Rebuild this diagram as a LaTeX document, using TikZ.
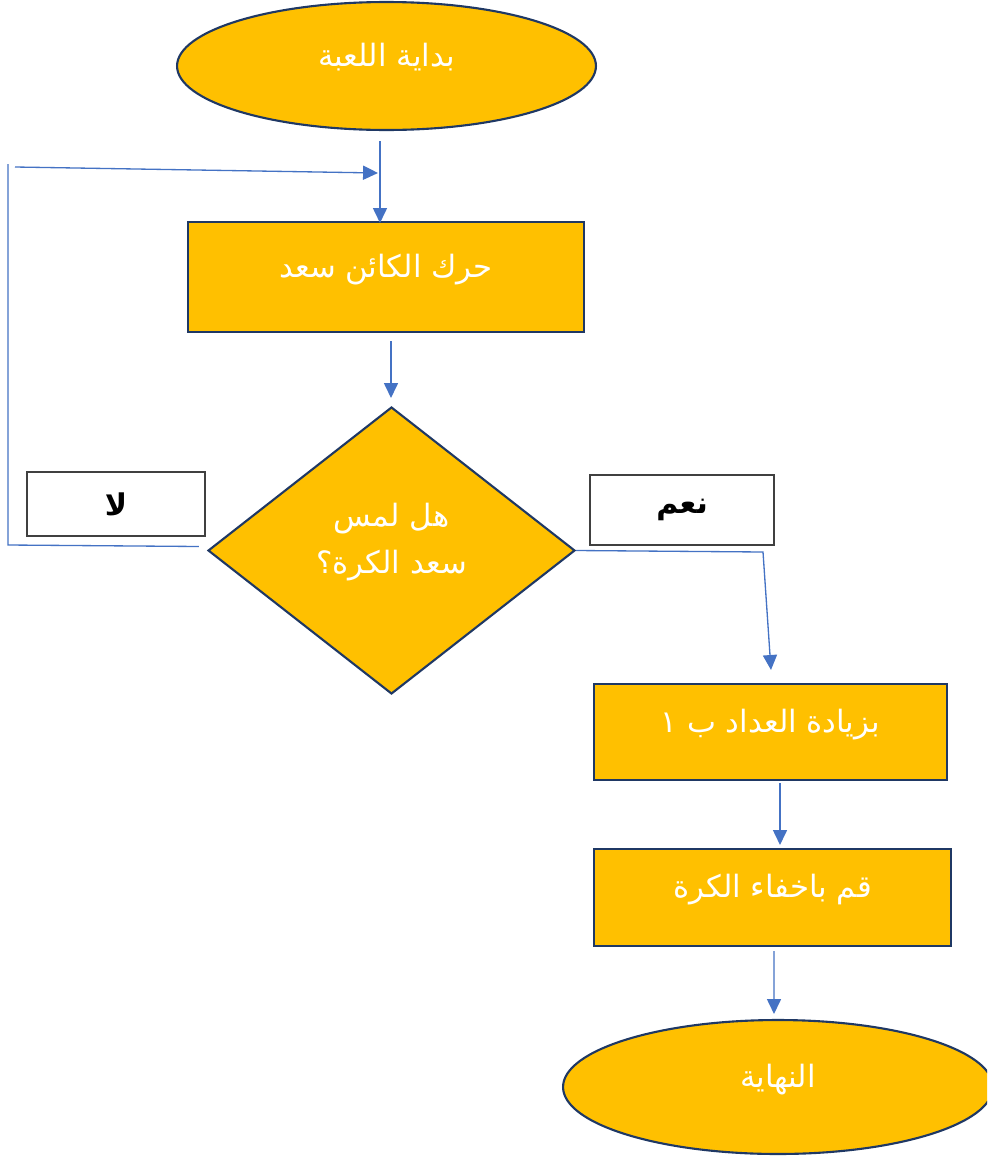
\documentclass[tikz,border=0pt]{standalone}
\usepackage{fontspec}
\newfontfamily\arabicfont[Script=Arabic]{DejaVu Sans}
\TeXXeTstate=1
\usetikzlibrary{shapes.geometric,arrows.meta,calc}
\definecolor{gold}{HTML}{FFC000}
\definecolor{navy}{HTML}{1F3864}
\definecolor{conn}{HTML}{4472C4}
\begin{document}
\begin{tikzpicture}[x=0.02cm,y=-0.02cm,
  shapebase/.style={draw=navy, fill=gold, line width=1.2pt, text=white,
    font=\arabicfont\fontsize{17.5}{26.5}\selectfont, inner sep=0pt},
  flowbox/.style={shapebase, rectangle, text height=10pt, text depth=10pt},
  terminal/.style={shapebase, ellipse, text height=10pt, text depth=10pt},
  decision/.style={shapebase, diamond, text height=10pt, text depth=12.6pt},
  labelbox/.style={draw=black!75, fill=white, line width=0.9pt, rectangle,
    font=\arabicfont\bfseries\fontsize{17}{20}\selectfont, text=black, inner sep=0pt},
  arr/.style={draw=conn, line width=0.75pt, -{Triangle[width=8pt,length=8.5pt]}},
  plain/.style={draw=conn, line width=0.75pt}]
\clip (0,0) rectangle (987,1156);
\fill[white] (0,0) rectangle (987,1156);

\node[terminal, minimum width=8.38cm, minimum height=2.56cm] (start) at (386.5,66) {\beginR بداية اللعبة\endR};
\node[flowbox, minimum width=7.92cm, minimum height=2.2cm] (move) at (386,277) {\beginR حرك الكائن سعد\endR};
\node[decision, minimum width=7.34cm, minimum height=5.74cm] (touch) at (391.5,550.5)
  {\begin{tabular}{@{}c@{}}\beginR هل لمس\endR\\\beginR سعد الكرة؟\endR\end{tabular}};
\node[labelbox, minimum width=3.56cm, minimum height=1.28cm] (no) at (116,504) {\beginR لا\endR};
\node[labelbox, minimum width=3.68cm, minimum height=1.4cm] (yes) at (682,510) {\beginR نعم\endR};
\node[flowbox, minimum width=7.06cm, minimum height=1.92cm] (inc) at (770.5,732) {\beginR بزيادة العداد ب ١\endR};
\node[flowbox, minimum width=7.14cm, minimum height=1.94cm] (hide) at (772.5,897.5) {\beginR قم باخفاء الكرة\endR};
\node[terminal, minimum width=8.6cm, minimum height=2.68cm] (finish) at (778,1087) {\beginR النهاية\endR};

\coordinate (loopbot) at (8,545);
\coordinate (looptop) at (8,164);
\coordinate (loopin) at (15,167);
\coordinate (merge) at (378,173);
\coordinate (yesbend) at (763,552);

\draw[arr] ($(start.south)+(-6.5,10)$) -- ($(move.north)+(-6,2)$);
\draw[arr] ($(move.south)+(5,8)$) -- ($(touch.north)+(-0.5,-8)$);
\draw[plain] ($(touch.west)+(-8,-4)$) -- (loopbot) -- (looptop);
\draw[arr] (loopin) -- (merge);
\draw[arr] (touch.east) -- (yesbend) -- ($(inc.north)+(0.5,-13)$);
\draw[arr] ($(inc.south)+(9.5,2)$) -- ($(hide.north)+(7.5,-3)$);
\draw[arr] ($(hide.south)+(1.5,4)$) -- ($(finish.north)+(-4,-5)$);
\end{tikzpicture}
\end{document}
